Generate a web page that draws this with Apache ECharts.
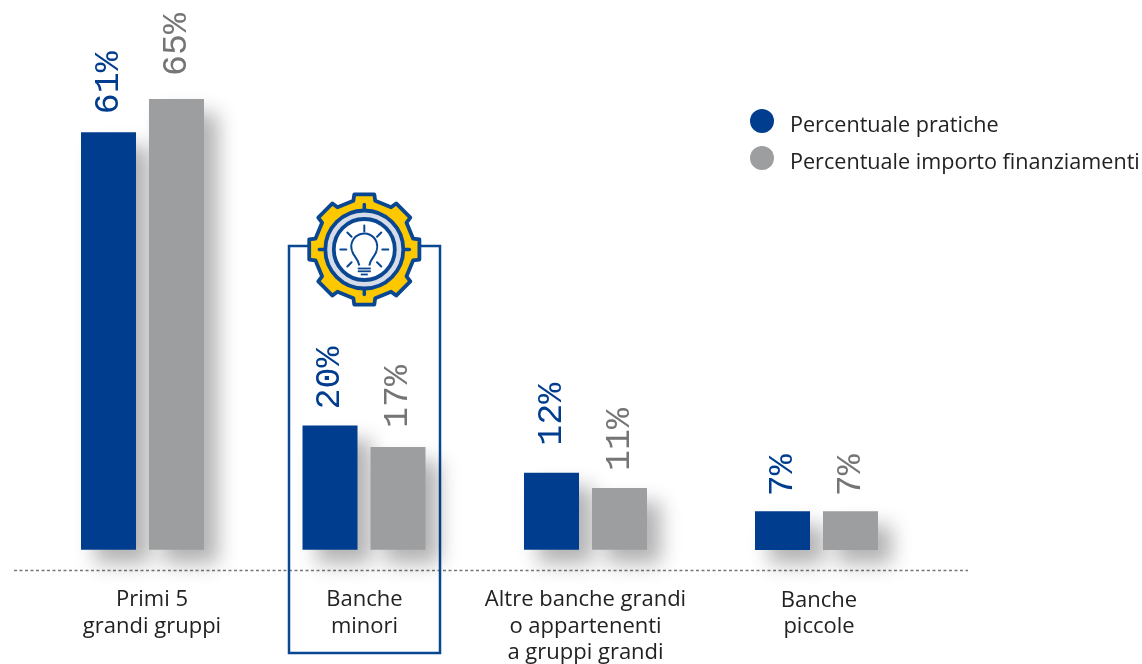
<!DOCTYPE html>
<html><head><meta charset="utf-8">
<style>html,body{margin:0;padding:0;background:#fff}#c{width:1142px;height:664px}</style>
<script src="https://cdn.jsdelivr.net/npm/echarts@6/dist/echarts.min.js"></script>
</head><body><div id="c"></div>
<script>
// Categories and printed labels
var categoriesMain = ['Primi 5\ngrandi gruppi', 'Banche\nminori', 'Altre banche grandi\no appartenenti\na gruppi grandi'];
var categoriesLast = ['Banche\npiccole'];
var seriesNames = ['Percentuale pratiche', 'Percentuale importo finanziamenti'];
var labelsPratiche = ['61%', '20%', '12%', '7%'];
var labelsImporto = ['65%', '17%', '11%', '7%'];
// Bar lengths as drawn in the picture (the source's bars are not strictly proportional to their printed labels)
var barsPratiche = [60.2, 17.9, 11.1, 5.6];
var barsImporto = [65, 14.8, 8.9, 5.6];

var BLUE = '#003d8f', GRAY = '#9d9ea0', NAVY = '#0a4793', LBL_GRAY = '#757575';
var FONT = '"Open Sans","Noto Sans",sans-serif';
var BASE = 550, PX = 6.94, MAX = 70, BAND = 221.5;
var top0 = BASE - MAX * PX;
// Gap between bar top and its label, per bar (px), as placed in the source
var gapPratiche = [16, 14, 25, 13];
var gapImporto = [21, 17, 15, 13];

function barSeries(name, vals, labels, gaps, color, lblColor, axis, start) {
  return {
    type: 'bar', name: name, xAxisIndex: axis, yAxisIndex: axis,
    data: vals.map(function (v, i) { return { value: v, label: { distance: gaps[i + start] } }; }),
    barWidth: 55, barGap: '23.6%', z: 3,
    itemStyle: { color: color, shadowColor: 'rgba(0,0,0,0.3)', shadowBlur: 20, shadowOffsetX: 14, shadowOffsetY: 14 },
    label: {
      show: true, position: 'top', rotate: 90, align: 'left', verticalAlign: 'middle',
      color: lblColor, fontFamily: '"Liberation Mono",monospace', fontSize: 35,
      offset: [2, 0],
      formatter: function (p) { return labels[p.dataIndex + start]; }
    }
  };
}
// Category labels are not exactly centred under their bars in the source: shift via left padding
function xAxis(cats, idx, shifts) {
  var rich = {};
  shifts.forEach(function (s, i) {
    rich['s' + i] = { color: '#222', fontFamily: FONT, fontSize: 22, lineHeight: 26.5, padding: [0, 0, 0, s] };
  });
  return { type: 'category', gridIndex: idx, data: cats,
    axisLine: { show: false }, axisTick: { show: false },
    axisLabel: { margin: 37, interval: 0,
      formatter: function (v, i) {
        return v.split('\n').map(function (l) { return '{s' + i + '|' + l + '}'; }).join('\n');
      }, rich: rich } };
}
function yAxis(idx) {
  return { type: 'value', gridIndex: idx, min: 0, max: MAX, show: false };
}
// Gear icon geometry
var CX = 364.3, CY = 249.5;
function gearPoints() {
  var pts = [], n = 8, rO = 56, rI = 50;
  for (var i = 0; i < n; i++) {
    var a = -Math.PI / 2 + i * 2 * Math.PI / n;
    var w1 = 0.22, w2 = 0.18;
    [[rI, -w1], [rO, -w2], [rO, w2], [rI, w1]].forEach(function (q) {
      pts.push([CX + q[0] * Math.cos(a + q[1]), CY + q[0] * Math.sin(a + q[1])]);
    });
  }
  return pts;
}
function radial(deg, r1, r2, width, color) {
  var a = deg * Math.PI / 180;
  return { type: 'line', z: 12, shape: { x1: CX + r1 * Math.cos(a), y1: CY + r1 * Math.sin(a), x2: CX + r2 * Math.cos(a), y2: CY + r2 * Math.sin(a) },
    style: { stroke: color, lineWidth: width, lineCap: 'round' } };
}
function circle(r, fill, stroke, w) {
  return { type: 'circle', z: 11, shape: { cx: CX, cy: CY, r: r }, style: { fill: fill, stroke: stroke, lineWidth: w } };
}
var icon = [
  { type: 'polygon', z: 10, shape: { points: gearPoints(), smooth: 0 }, style: { fill: '#fdc800', stroke: NAVY, lineWidth: 3.8, lineJoin: 'round' } },
  circle(39, '#d6dbe8', NAVY, 3.8),
  circle(30.5, '#fff', NAVY, 3.8)
];
[0, 90, 180, 270].forEach(function (d) { icon.push(radial(d, 41, 45, 3.5, NAVY)); });
[-90, -45, 0, 45, 135, 180, 225].forEach(function (d) { icon.push(radial(d, 18, 24, 2, NAVY)); });
// Bulb outline: glass arc, two neck curves and a base closure
var BY = CY - 3;
function neck(sign) {
  return { type: 'bezierCurve', z: 12, shape: {
      x1: CX + sign * 12.2, y1: BY + 4.5, cpx1: CX + sign * 11, cpy1: BY + 10, cpx2: CX + sign * 6, cpy2: BY + 12, x2: CX + sign * 5, y2: BY + 19 },
    style: { stroke: NAVY, lineWidth: 2, fill: 'none' } };
}
icon.push({ type: 'arc', z: 12, shape: { cx: CX, cy: BY, r: 13, startAngle: 2.8, endAngle: 0.34, clockwise: true },
  style: { stroke: NAVY, lineWidth: 2, fill: 'none' } });
icon.push(neck(-1), neck(1));
[[19, 6.5], [21.8, 6.5], [25, 3.5]].forEach(function (b) {
  icon.push({ type: 'line', z: 12, shape: { x1: CX - b[1], y1: CY + b[0], x2: CX + b[1], y2: CY + b[0] }, style: { stroke: NAVY, lineWidth: 1.8 } });
});

var chart = echarts.init(document.getElementById('c'), null, { renderer: 'canvas' });
chart.setOption({
  animation: false,
  backgroundColor: '#fff',
  grid: [
    { left: 142.5 - BAND / 2, width: BAND * 3, top: top0, height: MAX * PX },
    { left: 816.5 - BAND / 2, width: BAND, top: top0, height: MAX * PX }
  ],
  xAxis: [xAxis(categoriesMain, 0, [19, 1, 0]), xAxis(categoriesLast, 1, [5])],
  yAxis: [yAxis(0), yAxis(1)],
  legend: {
    left: 745, top: 100, orient: 'vertical', itemWidth: 24, itemHeight: 24, itemGap: 5,
    icon: 'circle', data: seriesNames.map(function (n) { return n; }),
    formatter: function (n) { return '{t|' + n + '}'; },
    textStyle: { rich: { t: { color: '#222', fontFamily: FONT, fontSize: 21.6, lineHeight: 29, padding: [10, 0, 0, 11] } } }
  },
  series: [
    barSeries(seriesNames[0], barsPratiche.slice(0, 3), labelsPratiche, gapPratiche, BLUE, BLUE, 0, 0),
    barSeries(seriesNames[1], barsImporto.slice(0, 3), labelsImporto, gapImporto, GRAY, LBL_GRAY, 0, 0),
    barSeries(seriesNames[0], barsPratiche.slice(3), labelsPratiche, gapPratiche, BLUE, BLUE, 1, 3),
    barSeries(seriesNames[1], barsImporto.slice(3), labelsImporto, gapImporto, GRAY, LBL_GRAY, 1, 3)
  ],
  graphic: [
    { type: 'line', z: 1, shape: { x1: 14, y1: 570.5, x2: 968, y2: 570.5 }, style: { stroke: '#777', lineWidth: 1.5, lineDash: [3, 2.5] } },
    { type: 'rect', z: 1, shape: { x: 289, y: 246, width: 151, height: 407 }, style: { fill: 'none', stroke: NAVY, lineWidth: 2.5 } }
  ].concat(icon)
});
</script></body></html>
